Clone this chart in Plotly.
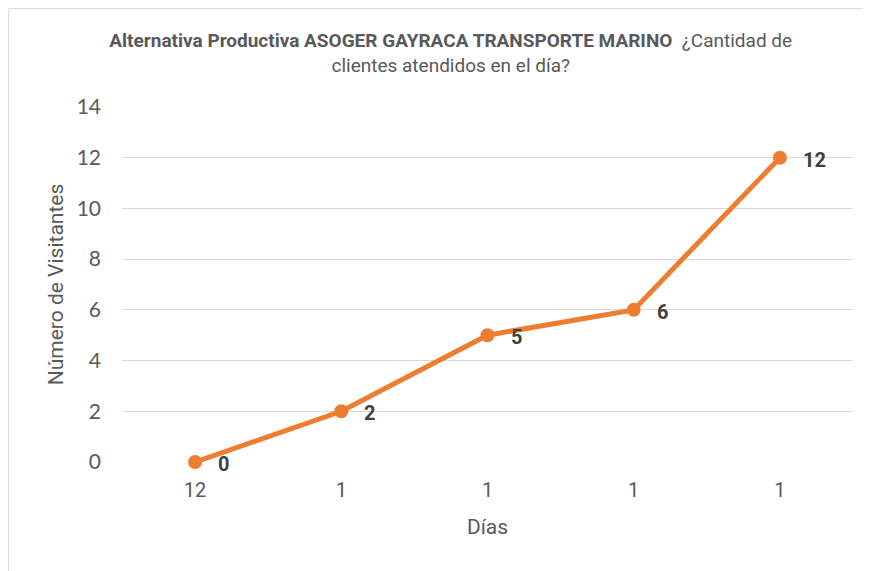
import plotly.graph_objects as go

# data
dias = ["12", "1", "1", "1", "1"]
visitantes = [0, 2, 5, 6, 12]
y_ticks = [0, 2, 4, 6, 8, 10, 12, 14]

NARROW = "Roboto, Liberation Sans Narrow, sans-serif"
GRAY = "#595959"
ORANGE = "#ED7D31"

pos = list(range(len(dias)))

fig = go.Figure()
fig.add_trace(go.Scatter(
    x=pos, y=visitantes, mode="lines+markers",
    line=dict(color=ORANGE, width=5),
    marker=dict(color=ORANGE, size=14),
    cliponaxis=False,
    hoverinfo="skip", showlegend=False,
))

for xi, yi in zip(pos, visitantes):
    fig.add_annotation(
        x=xi, y=yi, text=f"<b>{yi}</b>", showarrow=False,
        xanchor="left", yanchor="middle", xshift=21, yshift=-2,
        font=dict(family=NARROW, size=20, color="#404040"),
    )

# light frame of the chart object
fig.add_shape(type="rect", xref="paper", yref="paper",
              x0=-0.155, x1=1.2, y0=-0.4, y1=1.277,
              line=dict(color="#D9D9D9", width=1), layer="below")

# the page body adds an 8px offset, so the figure is 8px smaller
fig.update_layout(
    width=863, height=563,
    margin=dict(l=114, r=18, t=99, b=109),
    paper_bgcolor="white", plot_bgcolor="white",
    title=dict(
        text="<b>Alternativa Productiva ASOGER GAYRACA TRANSPORTE MARINO</b>  ¿Cantidad de<br>clientes atendidos en el día?",
        x=0.513, xref="container", xanchor="center",
        y=0.931, yref="container", yanchor="top",
        font=dict(family=NARROW, size=19, color=GRAY),
    ),
    xaxis=dict(
        tickmode="array", tickvals=pos, ticktext=dias,
        range=[-0.5, len(dias) - 0.5],
        showgrid=False, zeroline=False, showline=False,
        ticks="", ticklabelstandoff=14,
        tickfont=dict(family=NARROW, size=20, color=GRAY),
        title=dict(text="Días", standoff=18,
                   font=dict(family=NARROW, size=21, color=GRAY)),
    ),
    yaxis=dict(
        tickmode="array", tickvals=y_ticks,
        range=[0, 14],
        showgrid=True, gridcolor="#D9D9D9", gridwidth=1.3,
        zeroline=False, showline=False, ticks="",
        ticklabelstandoff=20,
        tickfont=dict(family="Lato, Open Sans, sans-serif", size=21, color=GRAY),
        title=dict(text="Número de Visitantes", standoff=7,
                   font=dict(family=NARROW, size=21, color=GRAY)),
    ),
)

fig.write_html("out.html")
